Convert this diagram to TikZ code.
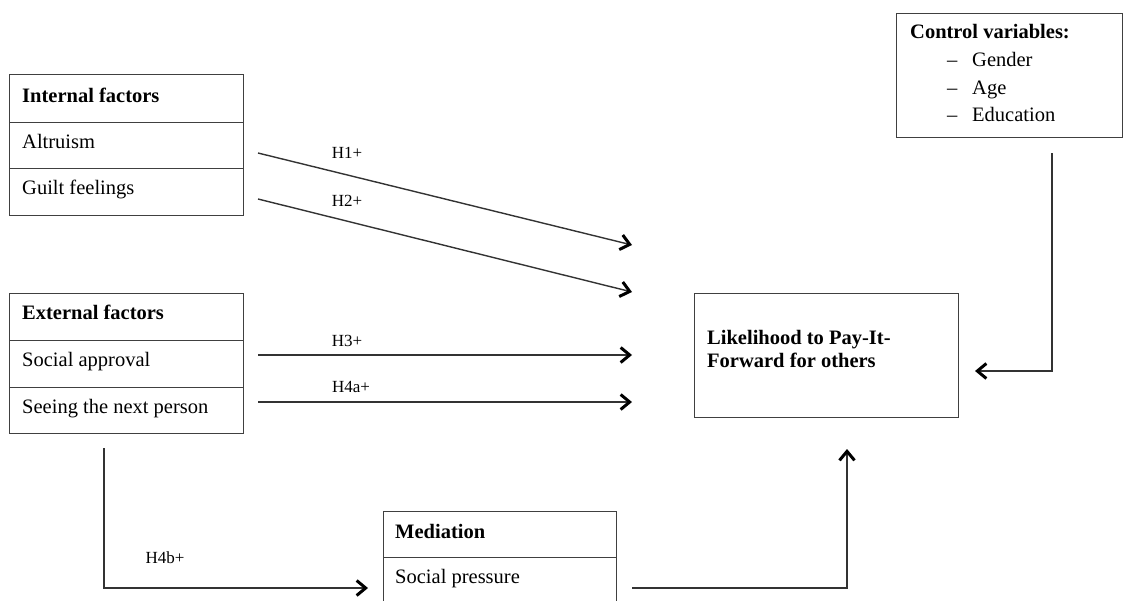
\documentclass[tikz,border=0pt]{standalone}
\usepackage{fontspec}
\setmainfont{Liberation Serif}
\usetikzlibrary{arrows.meta}
\begin{document}
\begin{tikzpicture}[x=1pt,y=-1pt,
  rowbox/.style={draw=black!75,line width=1.2pt,rectangle,anchor=north west,inner sep=0pt,minimum width=#1},
  txt/.style={anchor=base west,inner sep=0pt,font=\fontsize{20.5}{23}\selectfont},
  btxt/.style={txt,font=\fontsize{20.5}{23}\selectfont\bfseries},
  lbl/.style={inner sep=0pt,font=\fontsize{17}{20}\selectfont},
  arr/.style={draw=black!80,line width=1.4pt,-{Straight Barb[length=9pt,width=15pt,line width=3pt,color=black]}}
]
\useasboundingbox (0,0) rectangle (1124,600);
\clip (0,0) rectangle (1124,600);
% Internal factors
\node[rowbox=234pt,minimum height=48pt] (in1) at (9,74) {};
\node[rowbox=234pt,minimum height=46pt] (in2) at (9,122) {};
\node[rowbox=234pt,minimum height=47pt] (in3) at (9,168) {};
\node[btxt] (tin1) at (22,102) {Internal factors};
\node[txt] (tin2) at (22,148) {Altruism};
\node[txt] (tin3) at (22,194) {Guilt feelings};
% External factors
\node[rowbox=234pt,minimum height=47pt] (ex1) at (9,293) {};
\node[rowbox=234pt,minimum height=47pt] (ex2) at (9,340) {};
\node[rowbox=234pt,minimum height=46pt] (ex3) at (9,387) {};
\node[btxt] (tex1) at (22,319) {External factors};
\node[txt] (tex2) at (22,366) {Social approval};
\node[txt] (tex3) at (22,413) {Seeing the next person};
% Mediation
\node[rowbox=233pt,minimum height=46pt] (md1) at (383,511) {};
\node[rowbox=233pt,minimum height=50pt] (md2) at (383,557) {};
\node[btxt] (tmd1) at (395,538) {Mediation};
\node[txt] (tmd2) at (395,583) {Social pressure};
% Likelihood
\node[rowbox=264pt,minimum height=124pt] (lik) at (694,293) {};
\node[anchor=west,inner sep=0pt,align=left,font=\fontsize{20.5}{23}\selectfont\bfseries] (tlik) at (707,348.5) {Likelihood to Pay-It-\\Forward for others};
% Control variables
\node[rowbox=226pt,minimum height=124pt] (ctl) at (896,13) {};
\node[btxt] (tctl) at (910,38) {Control variables:};
\node[txt] (d1) at (947,66) {–};
\node[txt] (c1) at (972,66) {Gender};
\node[txt] (d2) at (947,94) {–};
\node[txt] (c2) at (972,94) {Age};
\node[txt] (d3) at (947,121) {–};
\node[txt] (c3) at (972,121) {Education};
% connector coordinates
\coordinate (h1s) at (258,153); \coordinate (h1e) at (632,245);
\coordinate (h2s) at (258,199); \coordinate (h2e) at (632,292);
\coordinate (h3s) at (258,355); \coordinate (h3e) at (632,355);
\coordinate (h4s) at (258,402); \coordinate (h4e) at (632,402);
\coordinate (cs) at (1052,153); \coordinate (cc) at (1052,371); \coordinate (ce) at (975,371);
\coordinate (bs) at (104,448); \coordinate (bc) at (104,588); \coordinate (be) at (368,588);
\coordinate (ms) at (632,588); \coordinate (mc) at (847,588); \coordinate (me) at (847,449);
\draw[arr] (h1s) -- (h1e);
\draw[arr] (h2s) -- (h2e);
\draw[arr] (h3s) -- (h3e);
\draw[arr] (h4s) -- (h4e);
\draw[arr] (cs) -- (cc) -- (ce);
\draw[arr] (bs) -- (bc) -- (be);
\draw[arr] (ms) -- (mc) -- (me);
% labels
\node[lbl] (l1) at (347,153) {H1+};
\node[lbl] (l2) at (347,201) {H2+};
\node[lbl] (l3) at (347,341) {H3+};
\node[lbl] (l4) at (351,387) {H4a+};
\node[lbl] (l5) at (165,558) {H4b+};
\end{tikzpicture}
\end{document}
